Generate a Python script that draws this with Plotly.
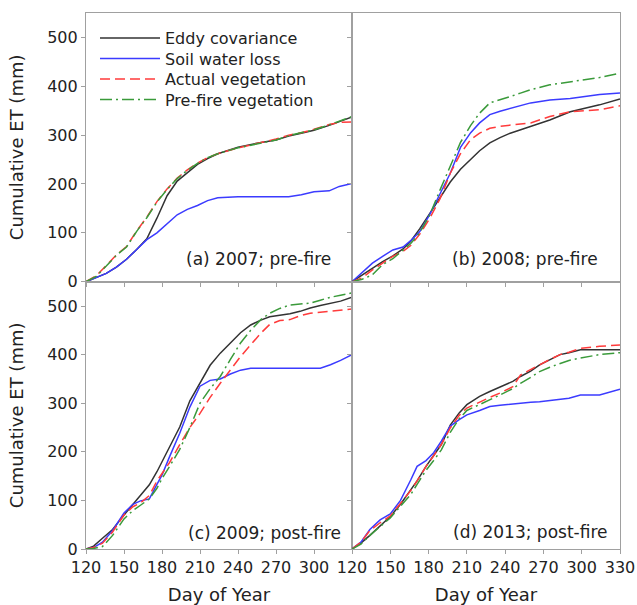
import plotly.graph_objects as go

# ---------------- data ----------------
series_names = ["Eddy covariance", "Soil water loss", "Actual vegetation", "Pre-fire vegetation"]
panel_labels = ["(a) 2007; pre-fire", "(b) 2008; pre-fire", "(c) 2009; post-fire", "(d) 2013; post-fire"]
x_ticks = [120, 150, 180, 210, 240, 270, 300, 330]
y_ticks = [0, 100, 200, 300, 400, 500]

a_days = [120, 128, 136, 144, 152, 160, 168, 176, 184, 192, 200, 208, 216, 224, 240, 256, 270, 280, 290, 300, 312, 320, 330]
a_eddy = [0, 8, 17, 30, 46, 66, 88, 130, 176, 206, 224, 240, 252, 262, 275, 284, 290, 298, 304, 310, 320, 327, 337]
a_soil = [0, 8, 17, 30, 46, 66, 86, 100, 119, 137, 148, 156, 166, 172, 174, 174, 174, 174, 178, 184, 186, 195, 201]
a_actual = [0, 12, 33, 55, 72, 104, 132, 164, 190, 212, 229, 243, 254, 262, 274, 283, 292, 300, 305, 312, 322, 326, 327]
a_prefire = [0, 11, 32, 54, 71, 103, 131, 163, 189, 211, 228, 242, 254, 262, 274, 283, 290, 299, 305, 311, 321, 329, 338]

b_days = [120, 128, 136, 144, 152, 160, 166, 173, 181, 189, 197, 205, 213, 220, 228, 236, 244, 252, 260, 275, 291, 314, 330]
b_eddy = [0, 14, 27, 41, 53, 67, 83, 108, 140, 172, 204, 230, 250, 268, 284, 295, 304, 311, 318, 331, 348, 362, 374]
b_soil = [0, 18, 38, 52, 65, 71, 84, 102, 138, 180, 222, 275, 305, 325, 342, 349, 355, 360, 366, 372, 375, 383, 386]
b_actual = [0, 8, 24, 38, 52, 62, 74, 97, 130, 170, 222, 262, 291, 304, 314, 318, 321, 323, 325, 338, 348, 352, 360]
b_prefire = [0, 5, 14, 35, 47, 65, 78, 100, 137, 188, 235, 285, 320, 345, 366, 372, 379, 386, 393, 403, 409, 418, 427]

c_days = [120, 126, 133, 141, 150, 157, 163, 170, 176, 180, 186, 194, 202, 210, 218, 226, 234, 242, 250, 258, 265, 273, 281, 289, 297, 305, 313, 321, 330]
c_eddy = [0, 6, 22, 40, 70, 92, 112, 132, 159, 180, 212, 251, 305, 340, 378, 403, 424, 445, 461, 471, 478, 481, 484, 489, 496, 501, 506, 510, 518]
c_soil = [0, 3, 14, 38, 74, 92, 99, 103, 133, 152, 190, 238, 292, 335, 347, 350, 360, 368, 372, 372, 372, 372, 372, 372, 372, 372, 379, 388, 400]
c_actual = [0, 3, 12, 35, 70, 87, 95, 110, 140, 155, 178, 215, 250, 279, 312, 341, 368, 396, 420, 444, 462, 470, 472, 480, 485, 487, 489, 491, 494]
c_prefire = [0, 1, 5, 28, 62, 79, 90, 103, 125, 145, 170, 205, 250, 300, 330, 355, 390, 424, 450, 472, 485, 495, 502, 504, 506, 512, 518, 522, 527]

d_days = [120, 127, 134, 142, 150, 158, 166, 171, 178, 184, 190, 197, 204, 210, 220, 228, 236, 246, 252, 260, 267, 275, 283, 290, 299, 314, 330]
d_eddy = [0, 12, 28, 48, 67, 92, 120, 140, 170, 192, 215, 255, 280, 297, 314, 324, 334, 345, 355, 366, 379, 390, 400, 404, 410, 410, 410]
d_soil = [0, 14, 40, 60, 72, 100, 142, 170, 182, 198, 222, 253, 266, 276, 285, 293, 296, 299, 300, 302, 303, 305, 307, 310, 317, 317, 329]
d_actual = [0, 14, 38, 54, 68, 94, 120, 140, 170, 192, 215, 249, 275, 290, 303, 312, 321, 334, 358, 370, 379, 390, 400, 405, 413, 417, 420]
d_prefire = [0, 10, 28, 46, 64, 88, 112, 133, 162, 182, 204, 240, 268, 285, 297, 307, 317, 330, 341, 353, 365, 374, 382, 388, 393, 400, 404]

# ---------------- style ----------------
W, H = 637, 605
FONT = "DejaVu Sans, Verdana, sans-serif"
TXT = "#222222"
colors = ["#333333", "#3b3bff", "#ff3b3b", "#3a9a3a"]
dashes = ["solid", "solid", "10px,5px", "12px,4px,2px,4px"]
frame_color = "#a0a0a0"

# plot area in pixels
L, R, T, B = 86, 620, 13, 549
PW, PH = R - L, B - T
def px(x):
    return (x - L) / PW
def py(y):
    return (B - y) / PH

split_x = px(352)
split_y = py(281.7)
x_domains = [[0, split_x], [split_x, 1]]
y_domains = [[split_y, 1], [0, split_y]]

panels = [
    (a_days, [a_eddy, a_soil, a_actual, a_prefire]),
    (b_days, [b_eddy, b_soil, b_actual, b_prefire]),
    (c_days, [c_eddy, c_soil, c_actual, c_prefire]),
    (d_days, [d_eddy, d_soil, d_actual, d_prefire]),
]
legend_ids = ["legend", "legend2", "legend3", "legend4"]

fig = go.Figure()
layout = dict(
    width=W, height=H,
    margin=dict(l=L, r=W - R, t=T, b=H - B, autoexpand=False),
    paper_bgcolor="white", plot_bgcolor="white",
    font=dict(family=FONT, size=15, color=TXT),
    showlegend=True,
    annotations=[],
)
for k, lid in enumerate(legend_ids):
    layout[lid] = dict(x=px(95), y=py(38 + 20.5 * k), xanchor="left", yanchor="middle",
                       bgcolor="rgba(0,0,0,0)", font=dict(size=16, color=TXT),
                       itemwidth=60)

annot_pos = [(333, 259), (600, 259), (343, 533), (610, 532)]

for i, (days, vals) in enumerate(panels):
    r, c = divmod(i, 2)
    ax = "" if i == 0 else str(i + 1)
    for k in range(4):
        fig.add_trace(go.Scatter(
            x=days, y=vals[k], mode="lines", name=series_names[k],
            line=dict(color=colors[k], width=1.5, dash=dashes[k]),
            xaxis="x" + ax, yaxis="y" + ax, showlegend=(i == 0),
            legend=legend_ids[k],
        ))
    show_x_labels = (r == 1)
    xticktext = [str(t) for t in x_ticks]
    if i == 2:
        xticktext[-1] = ""
    layout["xaxis" + ax] = dict(
        domain=x_domains[c], range=[120, 330], anchor="y" + ax,
        tickvals=x_ticks, ticktext=xticktext, showticklabels=show_x_labels,
        ticks="outside", ticklen=4, tickcolor=frame_color,
        showline=True, mirror=True, linecolor=frame_color, linewidth=1.2,
        showgrid=False, zeroline=False, automargin=False,
        tickfont=dict(size=16, color=TXT),
        title=dict(text="Day of Year" if show_x_labels else "", font=dict(size=18, color=TXT), standoff=12),
    )
    layout["yaxis" + ax] = dict(
        domain=y_domains[r], range=[0, 550], anchor="x" + ax,
        tickvals=y_ticks, showticklabels=(c == 0),
        ticks="outside", ticklen=4, tickcolor=frame_color,
        showline=True, mirror=True, linecolor=frame_color, linewidth=1.2,
        showgrid=False, zeroline=False, automargin=False,
        tickfont=dict(size=16, color=TXT),
        title=dict(text="Cumulative ET (mm)" if c == 0 else "", font=dict(size=18, color=TXT), standoff=18),
    )
    ax_x, ax_y = annot_pos[i]
    layout["annotations"].append(dict(
        text=panel_labels[i], xref="paper", yref="paper",
        x=px(ax_x), y=py(ax_y), xanchor="right", yanchor="middle",
        showarrow=False, font=dict(size=17, color=TXT),
    ))

fig.update_layout(**layout)
fig.write_html("out.html")
